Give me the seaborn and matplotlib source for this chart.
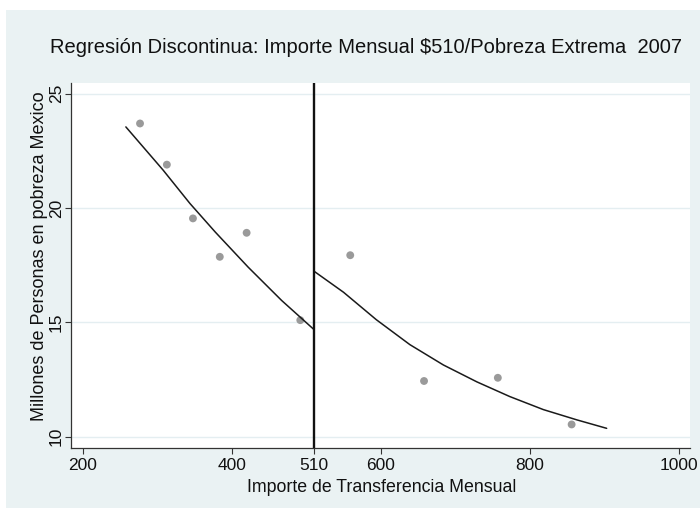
import numpy as np
import pandas as pd
import matplotlib
matplotlib.use("Agg")
import matplotlib.pyplot as plt
from matplotlib.patches import Rectangle
import seaborn as sns

# Monthly transfer amount (pesos) and millions of people in extreme poverty
importe = [277, 313, 348, 384, 420, 492, 559, 658, 757, 856]
pobreza = [23.70, 21.90, 19.55, 17.87, 18.92, 15.10, 17.94, 12.44, 12.58, 10.54]

# Fitted curve below the $510 threshold
ajuste_izq_x = [258, 308, 344, 378, 422, 467, 510]
ajuste_izq_y = [23.55, 21.66, 20.20, 18.95, 17.42, 15.96, 14.70]

# Fitted curve above the threshold
ajuste_der_x = [510, 550, 594, 639, 684, 729, 773, 818, 863, 903]
ajuste_der_y = [17.25, 16.32, 15.12, 14.03, 13.14, 12.40, 11.76, 11.19, 10.74, 10.37]

umbral = 510
xticks = [200, 400, 510, 600, 800, 1000]
yticks = [10, 15, 20, 25]

titulo = "Regresión Discontinua: Importe Mensual $510/Pobreza Extrema  2007"
etiqueta_x = "Importe de Transferencia Mensual"
etiqueta_y = "Millones de Personas en pobreza Mexico"

sns.set_style("ticks")
plt.rcParams["font.family"] = ["Liberation Sans", "DejaVu Sans"]

W, H = 700, 508
fig = plt.figure(figsize=(W / 100, H / 100), dpi=100)
fig.patch.set_facecolor("white")
fig.add_artist(Rectangle((6 / W, 0), 1 - 6 / W, 1 - 10 / H,
                         transform=fig.transFigure, facecolor="#eaf2f3",
                         edgecolor="none", zorder=-10))

ax = fig.add_axes([71 / W, 1 - 448 / H, 619 / W, 365 / H])
ax.set_facecolor("white")

df = pd.DataFrame({"importe": importe, "pobreza": pobreza})

for y in yticks:
    ax.axhline(y, color="#e4eef1", lw=1.0, zorder=0)

sns.scatterplot(data=df, x="importe", y="pobreza", color="#9a9a9a", s=32,
                edgecolor="none", ax=ax, zorder=3)
sns.lineplot(x=ajuste_izq_x, y=ajuste_izq_y, color="#1a1a1a", lw=1.1,
             estimator=None, sort=False, ax=ax, zorder=4)
sns.lineplot(x=ajuste_der_x, y=ajuste_der_y, color="#1a1a1a", lw=1.1,
             estimator=None, sort=False, ax=ax, zorder=4)
ax.axvline(umbral, color="#111111", lw=1.7, zorder=5)

ax.set_xlim(184.4, 1014.8)
ax.set_ylim(9.51, 25.47)
ax.set_xticks(xticks)
ax.set_xticklabels([str(v) for v in xticks])
ax.set_yticks(yticks)
ax.set_yticklabels([str(v) for v in yticks], rotation=90, va="center")
ax.tick_params(axis="both", direction="out", length=4, width=0.8,
               color="#333333", labelsize=12.5, labelcolor="#111111")
ax.tick_params(axis="x", pad=3)
ax.tick_params(axis="y", pad=1)

for s in ["top", "right"]:
    ax.spines[s].set_visible(False)
for s in ["left", "bottom"]:
    ax.spines[s].set_color("#333333")
    ax.spines[s].set_linewidth(0.9)

ax.set_xlabel("")
ax.set_ylabel("")

fig.text(366 / W, 1 - 47 / H, titulo, ha="center", va="center",
         fontsize=14.5, color="#111111")
fig.text(382 / W, 1 - 488 / H, etiqueta_x, ha="center", va="center",
         fontsize=12.8, color="#111111")
fig.text(40 / W, 1 - 256 / H, etiqueta_y, ha="center", va="center",
         rotation=90, fontsize=13, color="#111111")

fig.savefig("out.png", dpi=100, facecolor=fig.get_facecolor())
